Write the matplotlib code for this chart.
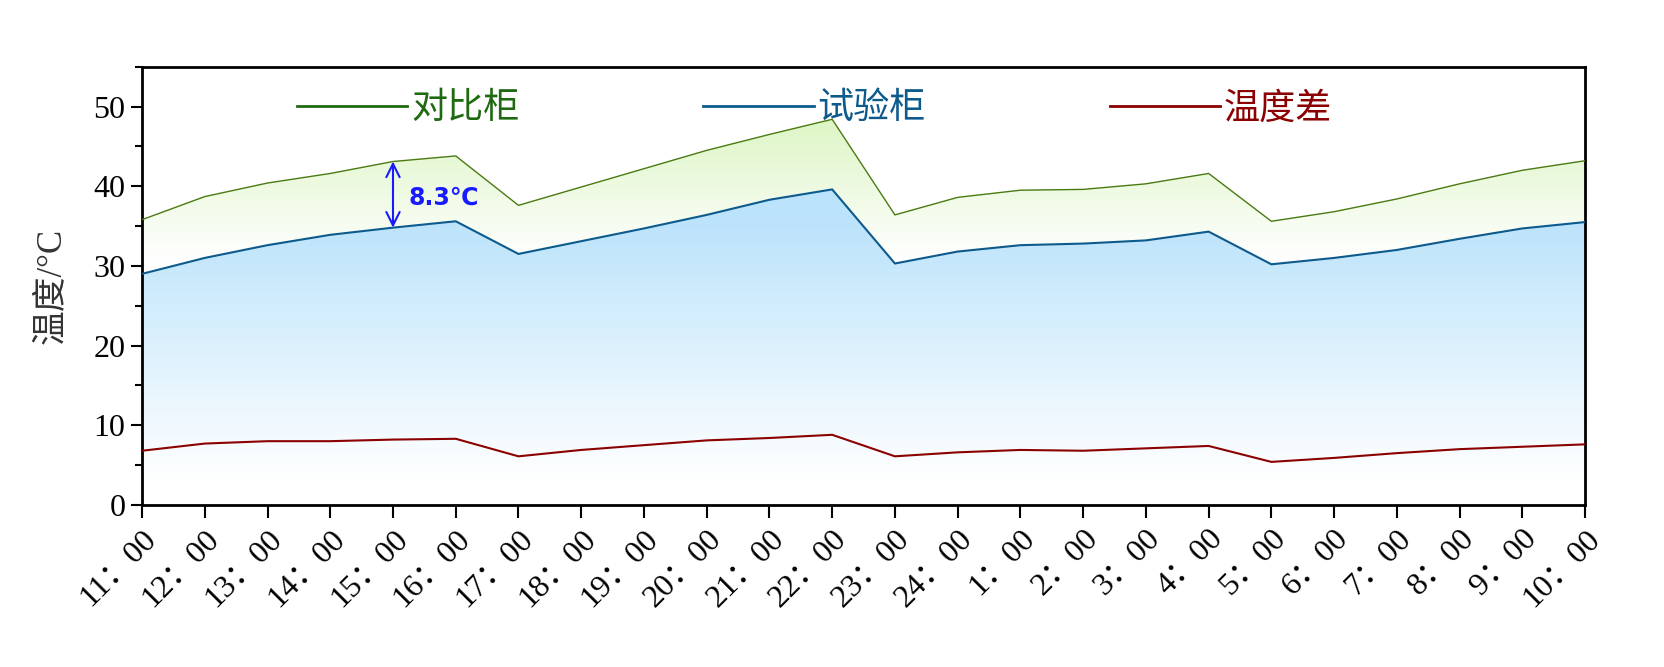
import numpy as np
import matplotlib.pyplot as plt
from matplotlib.colors import LinearSegmentedColormap
from matplotlib.ticker import MultipleLocator

plt.rcParams['font.family'] = ['Liberation Serif', 'Noto Sans CJK SC']

# 时间
hours = ['11', '12', '13', '14', '15', '16', '17', '18', '19', '20', '21', '22',
         '23', '24', '1', '2', '3', '4', '5', '6', '7', '8', '9', '10']
tick_labels = [h + '：00' for h in hours]

# 对比柜 温度
t_compare = [35.8, 38.7, 40.4, 41.6, 43.1, 43.8, 37.6, 39.9, 42.2, 44.5, 46.5, 48.4,
             36.4, 38.6, 39.5, 39.6, 40.3, 41.6, 35.6, 36.8, 38.4, 40.3, 42.0, 43.2]
# 试验柜 温度
t_test = [29.0, 31.0, 32.6, 33.9, 34.8, 35.6, 31.5, 33.1, 34.7, 36.4, 38.3, 39.6,
          30.3, 31.8, 32.6, 32.8, 33.2, 34.3, 30.2, 31.0, 32.0, 33.4, 34.7, 35.5]
# 温度差
t_diff = [6.8, 7.7, 8.0, 8.0, 8.2, 8.3, 6.1, 6.9, 7.5, 8.1, 8.4, 8.8,
          6.1, 6.6, 6.9, 6.8, 7.1, 7.4, 5.4, 5.9, 6.5, 7.0, 7.3, 7.6]

c_green = '#4a7a12'
c_blue = '#0d5a8c'
c_red = '#8b0000'

fig = plt.figure(figsize=(16.65, 6.67), dpi=100)
ax = fig.add_axes([0.0853, 0.243, 0.8667, 0.657])

x = np.arange(len(hours))
ax.set_xlim(0, len(hours) - 1)

# 渐变填充: y_bot 处为白色, y_full 以上为满色
def gradient_fill(poly, c_top, y_full, y_bot):
    cmap = LinearSegmentedColormap.from_list('g', ['white', c_top])
    yy = np.linspace(0, 55, 512)
    grad = np.clip((yy - y_bot) / (y_full - y_bot), 0, 1).reshape(-1, 1)
    im = ax.imshow(grad, cmap=cmap, aspect='auto', origin='lower', vmin=0, vmax=1,
                   extent=[0, len(hours) - 1, 0, 55], zorder=1)
    im.set_clip_path(poly.get_paths()[0], ax.transData)

p_green = ax.fill_between(x, t_test, t_compare, color='none', lw=0)
gradient_fill(p_green, '#dcf5c3', 49, 31)
p_blue = ax.fill_between(x, 0, t_test, color='none', lw=0)
gradient_fill(p_blue, '#bbe3fb', 36, 3)
ax.set_ylim(0, 55)

ax.plot(x, t_compare, color=c_green, lw=1, zorder=3)
ax.plot(x, t_test, color=c_blue, lw=1.5, zorder=3)
ax.plot(x, t_diff, color=c_red, lw=1.5, zorder=3)

# 图例
h1, = ax.plot([], [], color='#1f6a10', lw=2, label='对比柜')
h2, = ax.plot([], [], color=c_blue, lw=2, label='试验柜')
h3, = ax.plot([], [], color=c_red, lw=2, label='温度差')
ax.legend(handles=[h1, h2, h3], loc='center left', bbox_to_anchor=(0.085, 0.905),
          ncol=3, frameon=False, handlelength=3.05, handletextpad=0.1,
          columnspacing=5.1, labelcolor='linecolor',
          prop={'family': ['Noto Sans CJK SC'], 'size': 26})

# 标注
ax.annotate('', xy=(4, t_test[4]), xytext=(4, t_compare[4]),
            arrowprops=dict(arrowstyle='<->', color='#1a1aff', lw=1.5,
                            shrinkA=0, shrinkB=0, mutation_scale=24), zorder=4)
ax.text(4.25, 38.6, '%.1f℃' % (t_compare[4] - t_test[4]), color='#1a1aff',
        fontsize=17, fontweight='bold', va='center', ha='left',
        family=['DejaVu Sans', 'Noto Sans CJK SC'], zorder=4)

ax.set_xticks(x)
ax.set_xticklabels(tick_labels, rotation=45, ha='right', va='top',
                   rotation_mode='anchor', fontsize=23)
ax.yaxis.set_major_locator(MultipleLocator(10))
ax.yaxis.set_minor_locator(MultipleLocator(5))
ax.tick_params(axis='x', direction='out', length=9, width=1.5, pad=5)
ax.tick_params(axis='y', which='major', direction='out', length=8, width=1.5,
               labelsize=23, pad=4)
ax.tick_params(axis='y', which='minor', direction='out', length=5, width=1.5)
for s in ax.spines.values():
    s.set_linewidth(2)

ax.set_ylabel('温度/°C', fontsize=25, color='#333333', labelpad=18)

fig.savefig('out.png', dpi=100)
